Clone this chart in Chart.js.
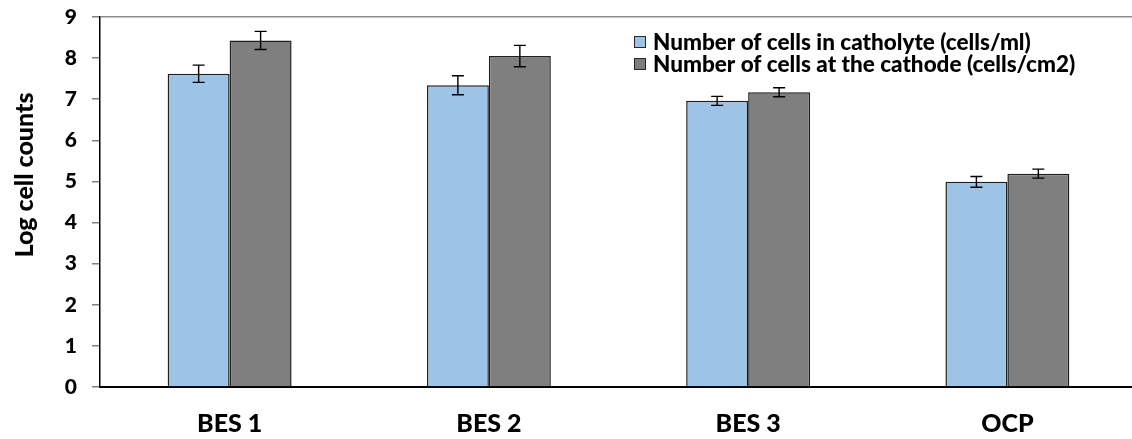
<!DOCTYPE html>
<html>
<head>
<meta charset="utf-8">
<script src="https://cdn.jsdelivr.net/npm/chart.js@4/dist/chart.umd.min.js"></script>
<style>
  html, body { margin: 0; padding: 0; background: #fff; overflow: hidden; }
  #wrap { width: 1132px; height: 439px; overflow: hidden; position: relative; }
  #c { display: block; width: 1140px; height: 439px; }
</style>
</head>
<body>
<div id="wrap"><canvas id="c" width="1140" height="439"></canvas></div>
<script>
// Log cell counts per reactor, mean ± standard deviation
const categories = ['BES 1', 'BES 2', 'BES 3', 'OCP'];
const catholyteLabel = 'Number of cells in catholyte (cells/ml)';
const cathodeLabel = 'Number of cells at the cathode (cells/cm2)';
const catholyteValues = [7.62, 7.34, 6.96, 4.99];
const catholyteErrors = [0.21, 0.23, 0.11, 0.13];
const cathodeValues = [8.43, 8.05, 7.17, 5.19];
const cathodeErrors = [0.22, 0.26, 0.11, 0.11];
const yTicks = [0, 1, 2, 3, 4, 5, 6, 7, 8, 9];

const FONT = 'Lato';
const WEIGHT = '900';

// whiskers with caps, placed through the value scale
const errorBars = {
  id: 'errorBars',
  afterDatasetsDraw(chart) {
    const ctx = chart.ctx;
    const y = chart.scales.y;
    ctx.save();
    ctx.strokeStyle = '#000';
    ctx.lineWidth = 1.4;
    chart.data.datasets.forEach((ds, di) => {
      const meta = chart.getDatasetMeta(di);
      meta.data.forEach((bar, i) => {
        const v = ds.data[i], e = ds.errors[i];
        const yHi = y.getPixelForValue(v + e);
        const yLo = y.getPixelForValue(v - e);
        const x = bar.x;
        ctx.beginPath();
        ctx.moveTo(x, yHi); ctx.lineTo(x, yLo);
        ctx.moveTo(x - 6, yHi); ctx.lineTo(x + 6, yHi);
        ctx.moveTo(x - 6, yLo); ctx.lineTo(x + 6, yLo);
        ctx.stroke();
      });
    });
    ctx.restore();
  }
};

// legend inside the plot, upper right
const innerLegend = {
  id: 'innerLegend',
  afterDraw(chart) {
    const ctx = chart.ctx;
    ctx.save();
    ctx.font = `${WEIGHT} 22.5px ${FONT}`;
    ctx.textBaseline = 'middle';
    ctx.textAlign = 'left';
    const rows = [42, 64];
    chart.data.datasets.forEach((ds, i) => {
      const cy = rows[i];
      ctx.fillStyle = ds.backgroundColor;
      ctx.fillRect(634, cy - 5.5, 11, 11);
      ctx.strokeStyle = '#262626';
      ctx.lineWidth = 1;
      ctx.strokeRect(634.5, cy - 5.5, 11, 11);
      ctx.fillStyle = '#000';
      ctx.fillText(ds.label, 653, cy + 1);
    });
    ctx.restore();
  }
};

// rotated value-axis title
const yTitle = {
  id: 'yTitle',
  afterDraw(chart) {
    const ctx = chart.ctx;
    ctx.save();
    ctx.translate(25, 175);
    ctx.rotate(-Math.PI / 2);
    ctx.font = `${WEIGHT} 25px ${FONT}`;
    ctx.fillStyle = '#000';
    ctx.textAlign = 'center';
    ctx.textBaseline = 'middle';
    ctx.fillText('Log cell counts', 0, 0);
    ctx.restore();
  }
};

new Chart(document.getElementById('c'), {
  type: 'bar',
  data: {
    labels: categories,
    datasets: [
      {
        label: catholyteLabel,
        data: catholyteValues,
        errors: catholyteErrors,
        backgroundColor: '#9DC3E6',
        borderColor: '#1F1F1F',
        borderWidth: 1.5
      },
      {
        label: cathodeLabel,
        data: cathodeValues,
        errors: cathodeErrors,
        backgroundColor: '#7F7F7F',
        borderColor: '#1F1F1F',
        borderWidth: 1.5
      }
    ]
  },
  options: {
    responsive: false,
    animation: false,
    devicePixelRatio: 1,
    categoryPercentage: 0.478,
    barPercentage: 1.0,
    layout: { padding: { top: 17, right: 3, bottom: 0, left: 0 } },
    plugins: {
      legend: { display: false },
      tooltip: { enabled: false }
    },
    scales: {
      x: {
        afterFit(scale) { scale.height = 52; },
        grid: { display: false },
        border: { display: true, color: '#000', width: 2 },
        ticks: {
          font: { family: FONT, weight: WEIGHT, size: 25 },
          color: '#000',
          padding: 14
        }
      },
      y: {
        min: 0,
        max: 9,
        afterFit(scale) {
          scale.width = 100;
          scale.paddingTop = 0;
          scale.paddingBottom = 0;
        },
        afterBuildTicks(scale) { scale.ticks = yTicks.map(v => ({ value: v })); },
        ticks: {
          font: { family: FONT, weight: WEIGHT, size: 21 },
          color: '#000',
          padding: 15
        },
        grid: {
          color: c => (c.tick && c.tick.value === 9) ? '#8C8C8C' : 'rgba(0,0,0,0)',
          lineWidth: 1.5,
          tickColor: '#808080',
          tickLength: 8,
          drawTicks: true
        },
        border: { color: '#000', width: 1.5 }
      }
    }
  },
  plugins: [errorBars, innerLegend, yTitle]
});
</script>
</body>
</html>
